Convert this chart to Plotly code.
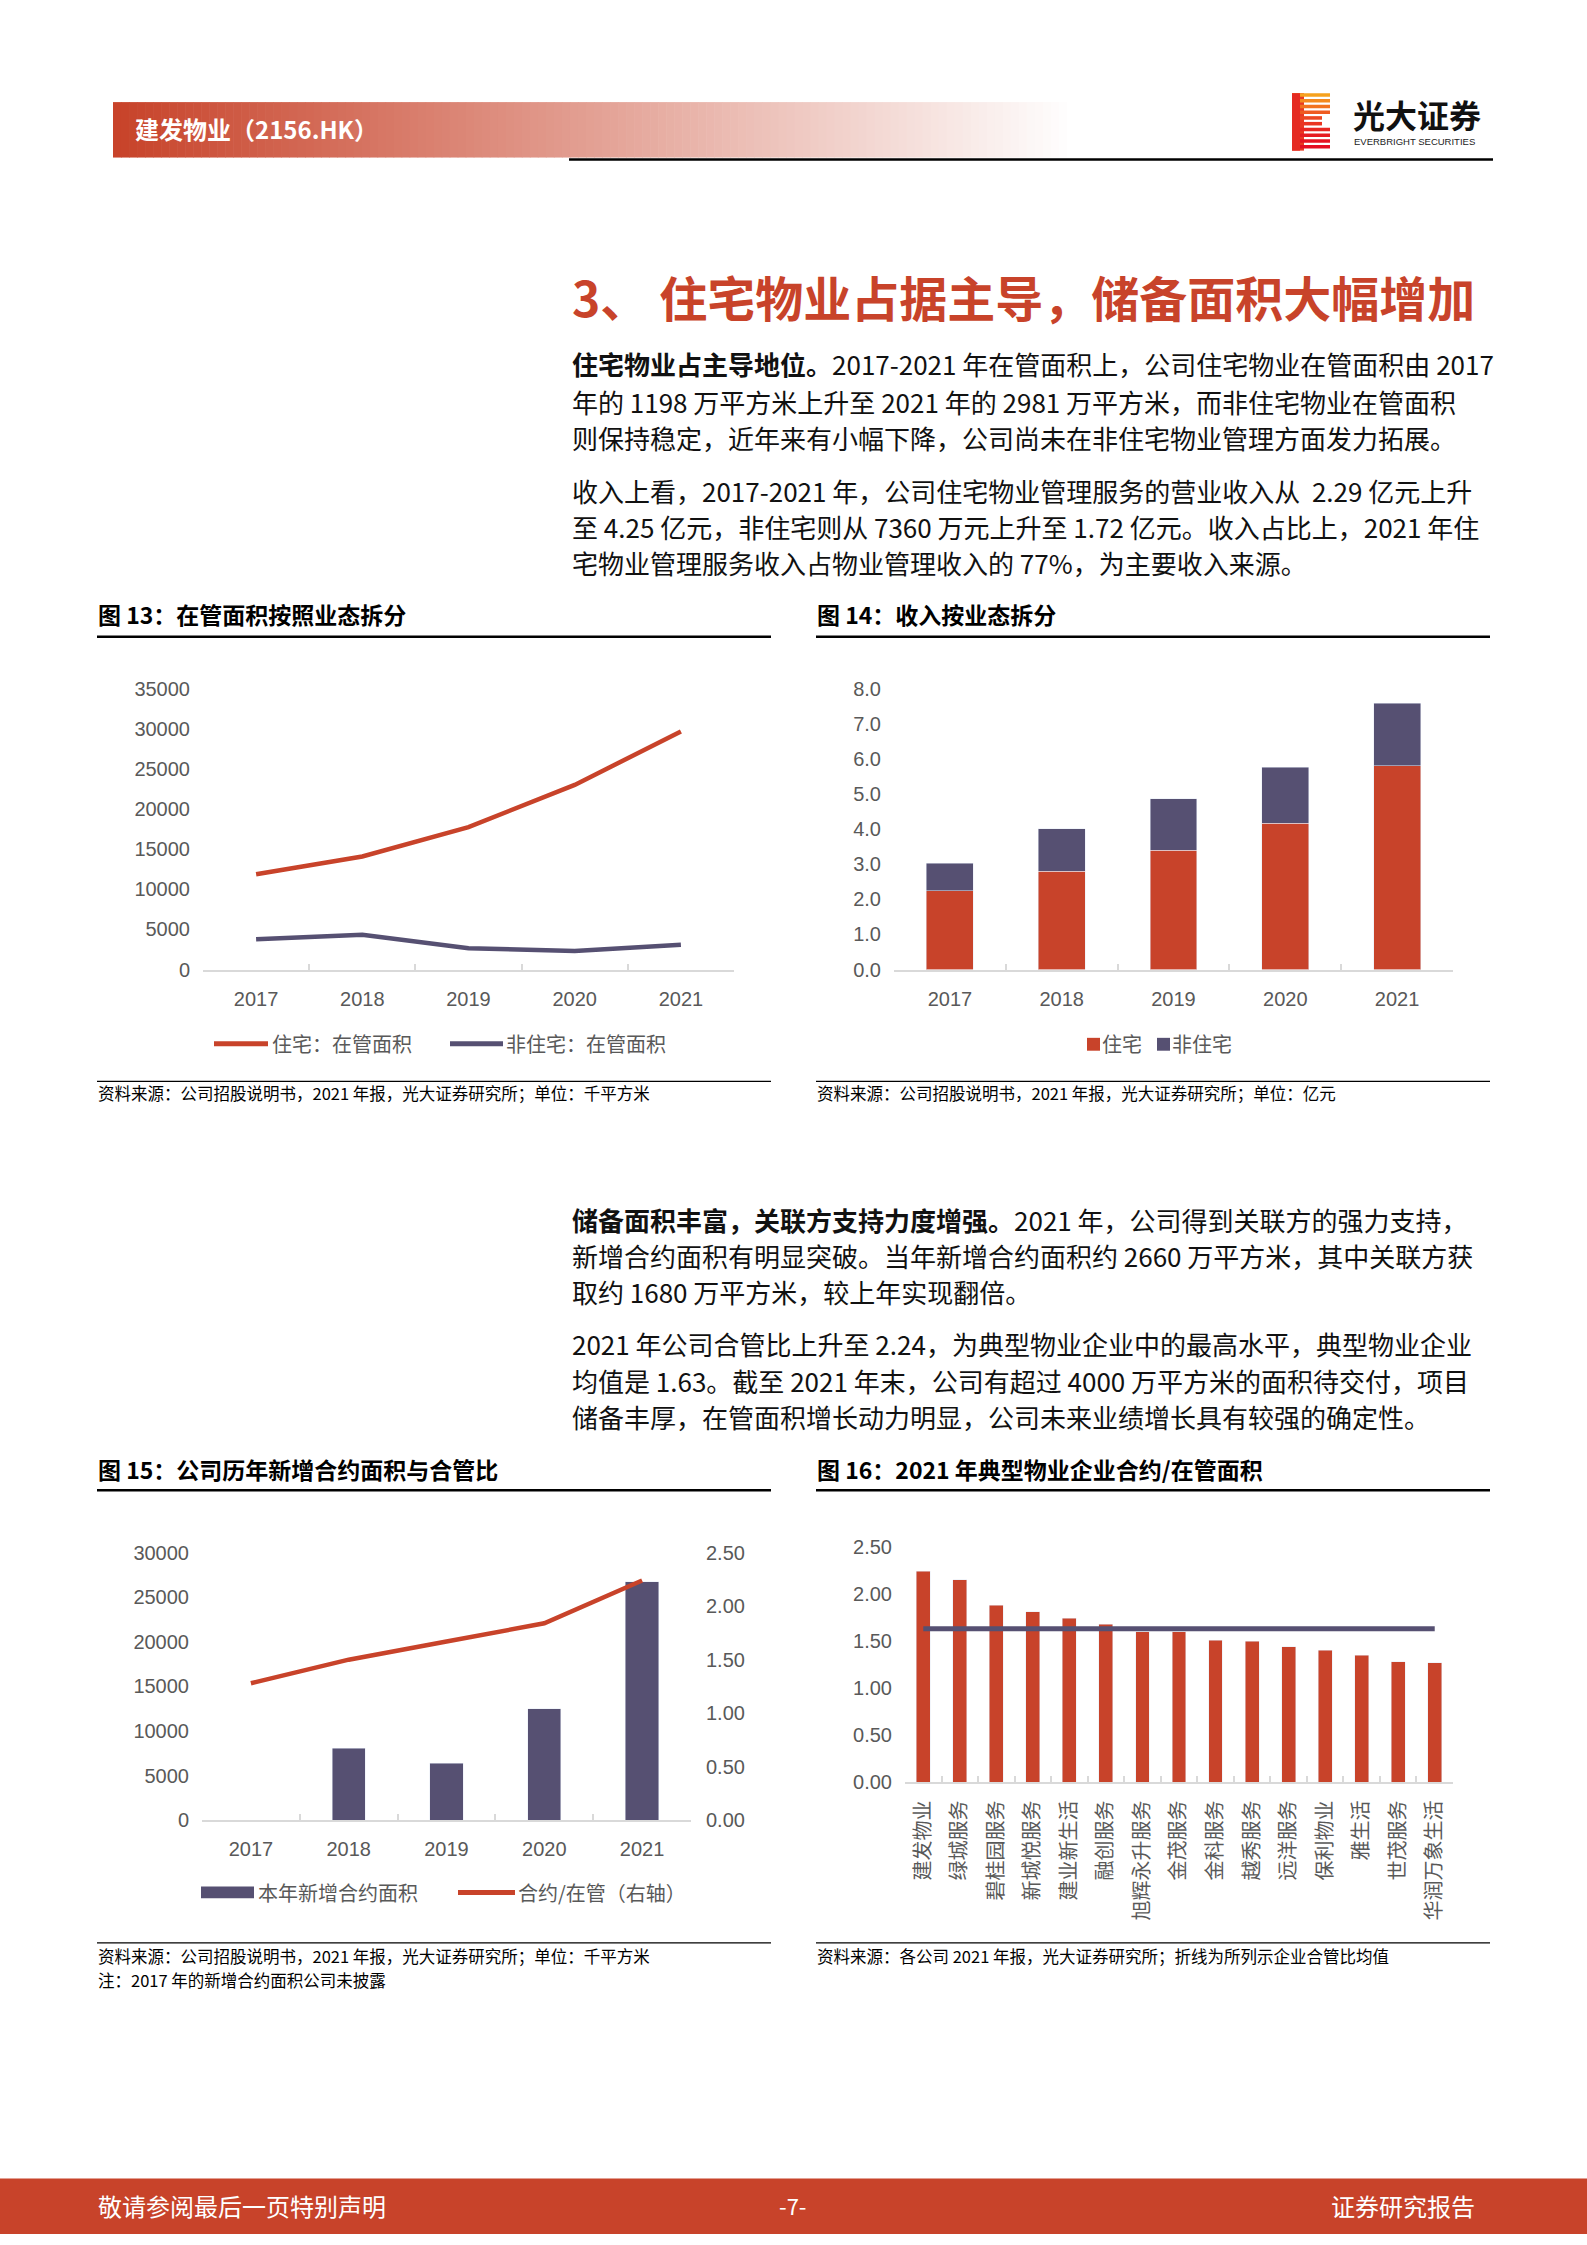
import plotly.graph_objects as go

W, H = 1587, 2245
def X(px): return px / W
def Y(py): return 1 - py / H

RED = "#C8432A"
PURPLE = "#565072"
GREY_TXT = "#595959"
AXIS_GREY = "#D9D9D9"
FONT_CJK = "Noto Sans CJK SC"
FONT_NUM = "Liberation Sans, Noto Sans CJK SC"

# ---------------- data ----------------
years = ["2017", "2018", "2019", "2020", "2021"]
# 图13 在管面积（千平方米）
area_res = [11890, 14120, 17790, 23060, 29720]
area_nonres = [3790, 4340, 2660, 2320, 3080]
# 图14 收入（亿元）
rev_res = [2.25, 2.81, 3.40, 4.17, 5.82]
rev_nonres = [0.79, 1.21, 1.47, 1.61, 1.78]
# 图15 新增合约面积（千平方米）与合约/在管
new_contract = [None, 8040, 6360, 12520, 26760]
contract_ratio = [1.28, 1.50, 1.67, 1.84, 2.24]
# 图16 2021年典型物业企业合约/在管面积
companies = ["建发物业", "绿城服务", "碧桂园服务", "新城悦服务", "建业新生活", "融创服务",
             "旭辉永升服务", "金茂服务", "金科服务", "越秀服务", "远洋服务", "保利物业",
             "雅生活", "世茂服务", "华润万象生活"]
company_ratio = [2.24, 2.15, 1.88, 1.81, 1.74, 1.68, 1.60, 1.60, 1.51, 1.50, 1.44, 1.40,
                 1.35, 1.28, 1.27]
avg_ratio = [1.63, 1.63, 1.63, 1.63, 1.63, 1.63, 1.63, 1.63, 1.63, 1.63, 1.63, 1.63,
             1.63, 1.63, 1.63]

y13_ticks = [0, 5000, 10000, 15000, 20000, 25000, 30000, 35000]
y14_ticks = [0, 1, 2, 3, 4, 5, 6, 7, 8]
y15_ticks = [0, 5000, 10000, 15000, 20000, 25000, 30000]
y15r_ticks = [0, 0.5, 1.0, 1.5, 2.0, 2.5]
y16_ticks = [0, 0.5, 1.0, 1.5, 2.0, 2.5]

fig = go.Figure()

# 图13
fig.add_trace(go.Scatter(x=years, y=area_res, xaxis="x", yaxis="y", mode="lines",
                         line=dict(color=RED, width=4.5), name="住宅：在管面积"))
fig.add_trace(go.Scatter(x=years, y=area_nonres, xaxis="x", yaxis="y", mode="lines",
                         line=dict(color=PURPLE, width=4.5), name="非住宅：在管面积"))
# 图14
fig.add_trace(go.Bar(x=years, y=rev_res, xaxis="x2", yaxis="y2", marker_color=RED,
                     width=0.42, name="住宅"))
fig.add_trace(go.Bar(x=years, y=rev_nonres, xaxis="x2", yaxis="y2", marker_color=PURPLE,
                     width=0.42, name="非住宅"))
# 图15
fig.add_trace(go.Bar(x=years, y=new_contract, xaxis="x3", yaxis="y3", marker_color=PURPLE,
                     width=0.34, name="本年新增合约面积"))
fig.add_trace(go.Scatter(x=years, y=contract_ratio, xaxis="x3", yaxis="y4", mode="lines",
                         line=dict(color=RED, width=4.5), name="合约/在管（右轴）"))
# 图16
fig.add_trace(go.Bar(x=companies, y=company_ratio, xaxis="x4", yaxis="y5", marker_color=RED,
                     width=0.38, name="合约/在管"))
fig.add_trace(go.Scatter(x=companies, y=avg_ratio, xaxis="x4", yaxis="y5", mode="lines",
                         line=dict(color=PURPLE, width=5), name="均值"))

tickfont = dict(family=FONT_NUM, size=20, color=GREY_TXT)

def xcat(domain, anchor, n, angle=0, standoff=8):
    return dict(domain=[X(domain[0]), X(domain[1])], anchor=anchor, type="category",
                range=[-0.5, n - 0.5], showline=True, linecolor=AXIS_GREY, linewidth=2,
                ticks="inside", tickson="boundaries", ticklen=6, tickwidth=1.5,
                tickcolor=AXIS_GREY, showgrid=False, zeroline=False, tickfont=tickfont,
                tickangle=angle, ticklabelstandoff=standoff, fixedrange=True)

def yval(domain, anchor, rng, vals, fmt, side="left"):
    return dict(domain=[Y(domain[0]), Y(domain[1])], anchor=anchor, range=rng,
                tickvals=vals, tickformat=fmt, showline=False, showgrid=False,
                zeroline=False, ticks="", tickfont=tickfont, side=side,
                ticklabelstandoff=12, fixedrange=True)

fig.update_layout(
    xaxis=xcat((203, 734), "y", 5, standoff=10),
    yaxis=yval((968, 685), "x", [0, 35000], y13_ticks, "d"),
    xaxis2=xcat((894, 1453), "y2", 5, standoff=10),
    yaxis2=yval((968, 685), "x2", [0, 8], y14_ticks, ".1f"),
    xaxis3=xcat((202, 691), "y3", 5, standoff=10),
    yaxis3=yval((1827, 1557), "x3", [0, 30000], y15_ticks, "d"),
    yaxis4=dict(overlaying="y3", anchor="x3", side="right", range=[0, 2.5],
                tickvals=y15r_ticks, tickformat=".2f", showline=False, showgrid=False,
                zeroline=False, ticks="", tickfont=tickfont, ticklabelstandoff=14,
                fixedrange=True),
    xaxis4=xcat((905, 1453), "y5", 15, angle=-90, standoff=8),
    yaxis5=yval((1789, 1551), "x4", [0, 2.5], y16_ticks, ".2f"),
)

shapes = []
annotations = []

def rect(x0, y0, x1, y1, color, layer="below"):
    shapes.append(dict(type="rect", xref="paper", yref="paper", x0=X(x0), x1=X(x1),
                       y0=Y(y1), y1=Y(y0), fillcolor=color, line=dict(width=0),
                       layer=layer))

def hline(x0, x1, y, width, color="black"):
    shapes.append(dict(type="line", xref="paper", yref="paper", x0=X(x0), x1=X(x1),
                       y0=Y(y), y1=Y(y), line=dict(color=color, width=width)))

def text(x, y, s, size, color="black", anchor="left", bold=False, family=FONT_CJK):
    annotations.append(dict(xref="paper", yref="paper", x=X(x), y=Y(y), text=s,
                            showarrow=False, xanchor=anchor, yanchor="middle",
                            font=dict(family=family, size=size, color=color,
                                      weight="bold" if bold else "normal"),
                            borderpad=0))

# ---------- header gradient band ----------
gx0, gx1 = 113, 1075
n_slices = 120
for i in range(n_slices):
    t = i / (n_slices - 1)
    r = int(200 + (255 - 200) * t)
    g = int(67 + (255 - 67) * t)
    b = int(42 + (255 - 42) * t)
    sx0 = gx0 + (gx1 - gx0) * i / n_slices
    sx1 = gx0 + (gx1 - gx0) * (i + 1) / n_slices + 0.6
    rect(sx0, 92, sx1, 148, f"rgb({r},{g},{b})")
text(134, 119, "建发物业（2156.HK）", 24, "white", bold=True)
hline(569, 1493, 150, 2.5)

# logo
logo_cols = ["#F6A21E", "#F48A1E", "#F2731F", "#EF5B20", "#EC4721", "#EA3522",
             "#E82722", "#E61C22", "#E51422", "#E40E22"]
rect(1292, 83, 1304, 141, "#E83A22")
for i in range(10):
    y0 = 83 + i * 5.8
    xr = 1330 if i not in (4, 5) else 1322
    rect(1292, y0, xr, y0 + 3.6, logo_cols[i])
rect(1292, 83, 1300, 141, "#E52A22")
text(1352, 104, "光大证券", 32, "#111111", bold=True)
text(1353, 132, "EVERBRIGHT SECURITIES", 9.5, "#222222", family="Liberation Sans")

# ---------- section title ----------
text(571, 288, "3、 住宅物业占据主导，储备面积大幅增加", 48, RED, bold=True)

# ---------- paragraphs ----------
P = 26
para_lines = [
    (356, "<b>住宅物业占主导地位。</b>2017-2021 年在管面积上，公司住宅物业在管面积由 2017"),
    (394, "年的 1198 万平方米上升至 2021 年的 2981 万平方米，而非住宅物业在管面积"),
    (431, "则保持稳定，近年来有小幅下降，公司尚未在非住宅物业管理方面发力拓展。"),
    (484, "收入上看，2017-2021 年，公司住宅物业管理服务的营业收入从  2.29 亿元上升"),
    (521, "至 4.25 亿元，非住宅则从 7360 万元上升至 1.72 亿元。收入占比上，2021 年住"),
    (557, "宅物业管理服务收入占物业管理收入的 77%，为主要收入来源。"),
    (1220, "<b>储备面积丰富，关联方支持力度增强。</b>2021 年，公司得到关联方的强力支持，"),
    (1257, "新增合约面积有明显突破。当年新增合约面积约 2660 万平方米，其中关联方获"),
    (1293, "取约 1680 万平方米，较上年实现翻倍。"),
    (1346, "2021 年公司合管比上升至 2.24，为典型物业企业中的最高水平，典型物业企业"),
    (1383, "均值是 1.63。截至 2021 年末，公司有超过 4000 万平方米的面积待交付，项目"),
    (1419, "储备丰厚，在管面积增长动力明显，公司未来业绩增长具有较强的确定性。"),
]
for yy, s in para_lines:
    text(571, yy, s, P, "#111111")

# ---------- chart titles / rules / sources ----------
text(97, 609, "图 13：在管面积按照业态拆分", 23, "black", bold=True)
text(816, 609, "图 14：收入按业态拆分", 23, "black", bold=True)
hline(97, 771, 632, 2.5)
hline(816, 1490, 632, 2.5)
hline(97, 771, 1081, 1.3)
hline(816, 1490, 1081, 1.3)
text(97, 1093, "资料来源：公司招股说明书，2021 年报，光大证券研究所；单位：千平方米", 16.5)
text(816, 1093, "资料来源：公司招股说明书，2021 年报，光大证券研究所；单位：亿元", 16.5)

text(97, 1472, "图 15：公司历年新增合约面积与合管比", 23, "black", bold=True)
text(816, 1472, "图 16：2021 年典型物业企业合约/在管面积", 23, "black", bold=True)
hline(97, 771, 1494, 2.5)
hline(816, 1490, 1494, 2.5)
hline(97, 771, 1951, 1.3)
hline(816, 1490, 1951, 1.3)
text(97, 1964, "资料来源：公司招股说明书，2021 年报，光大证券研究所；单位：千平方米", 16.5)
text(97, 1988, "注：2017 年的新增合约面积公司未披露", 16.5)
text(816, 1964, "资料来源：各公司 2021 年报，光大证券研究所；折线为所列示企业合管比均值", 16.5)

# ---------- custom legends ----------
LG = 20
# 图13
hline(214, 268, 1043, 5, RED)
text(271, 1043, "住宅：在管面积", LG, GREY_TXT)
hline(450, 503, 1043, 5, PURPLE)
text(505, 1043, "非住宅：在管面积", LG, GREY_TXT)
# 图14
rect(1087, 1037, 1100, 1050, RED)
text(1101, 1043, "住宅", LG, GREY_TXT)
rect(1157, 1037, 1170, 1050, PURPLE)
text(1171, 1043, "非住宅", LG, GREY_TXT)
# 图15
rect(201, 1894, 254, 1906, PURPLE)
text(257, 1900, "本年新增合约面积", LG, GREY_TXT)
hline(458, 515, 1900, 5, RED)
text(517, 1900, "合约/在管（右轴）", LG, GREY_TXT)

# ---------- footer ----------
rect(0, 2189, W, H, RED)
text(97, 2216, "敬请参阅最后一页特别声明", 24, "white")
text(792, 2216, "-7-", 22, "white", anchor="center")
text(1476, 2216, "证券研究报告", 24, "white", anchor="right")

fig.update_layout(
    width=W, height=H, margin=dict(l=0, r=0, t=0, b=0, pad=0),
    paper_bgcolor="white", plot_bgcolor="rgba(0,0,0,0)",
    showlegend=False, barmode="stack",
    shapes=shapes, annotations=annotations,
    font=dict(family=FONT_CJK, color=GREY_TXT),
)

fig.write_html("out.html", config={"displayModeBar": False},
               post_script="document.body.style.margin='0';document.body.style.padding='0';"
                           "document.documentElement.style.overflow='hidden';")
